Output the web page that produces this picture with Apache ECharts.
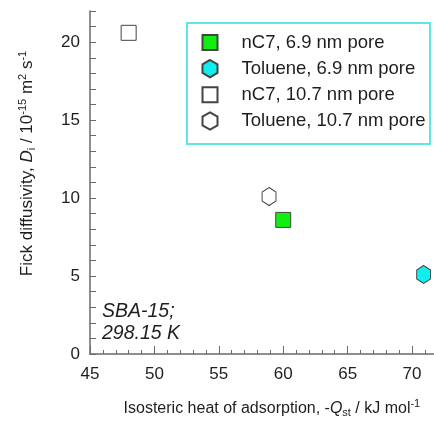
<!DOCTYPE html>
<html>
<head>
<meta charset="utf-8">
<script src="https://cdn.jsdelivr.net/npm/echarts@6/dist/echarts.min.js"></script>
<style>html,body{margin:0;padding:0;background:#fff}#c{width:434px;height:427px}</style>
</head>
<body>
<div id="c"></div>
<script>
var seriesNames = ['nC7, 6.9 nm pore', 'Toluene, 6.9 nm pore', 'nC7, 10.7 nm pore', 'Toluene, 10.7 nm pore'];
var nC7_69 = [[60.0, 8.6]];
var tol_69 = [[70.9, 5.1]];
var nC7_107 = [[48.0, 20.6]];
var tol_107 = [[58.9, 10.1]];
var xTicks = [45, 50, 55, 60, 65, 70];
var yTicks = [0, 5, 10, 15, 20];

var HEX = 'path://M0,-1 L0.866,-0.5 L0.866,0.5 L0,1 L-0.866,0.5 L-0.866,-0.5 Z';
var SQ = 'path://M0,0 L1,0 L1,1 L0,1 Z';
var FONT = 'Liberation Sans';
var AX = '#6a6a6a';
var TXT = '#1e1e1e';
var chart = echarts.init(document.getElementById('c'));

function mk(name, data, symbol, size, fill) {
  return {
    name: name, type: 'scatter', data: data, symbol: symbol, symbolSize: size,
    symbolKeepAspect: true, xAxisIndex: 0, yAxisIndex: 0,
    itemStyle: { color: fill, borderColor: '#444', borderWidth: 1, opacity: 1 },
    emphasis: { disabled: true }
  };
}
function richName(fs) {
  return {
    n: { fontSize: fs, color: TXT, fontFamily: FONT },
    i: { fontSize: fs, color: TXT, fontFamily: FONT, fontStyle: 'italic' },
    sub: { fontSize: 11, color: TXT, fontFamily: FONT, padding: [8, 0, 0, 0] },
    sup: { fontSize: 11, color: TXT, fontFamily: FONT, padding: [0, 0, 10, 0] }
  };
}

chart.setOption({
  animation: false,
  textStyle: { fontFamily: FONT },
  grid: { left: 90, top: 11, width: 347.8, height: 343, outerBoundsMode: 'none', containLabel: false },
  legend: {
    orient: 'vertical', left: 201.5, top: 33, padding: 0,
    itemWidth: 15, itemHeight: 18, itemGap: 7,
    symbolKeepAspect: true,
    textStyle: { fontFamily: FONT, fontSize: 18.5, lineHeight: 18, color: TXT, padding: [0, 0, 0, 19] },
    data: seriesNames
  },
  xAxis: [{
    type: 'value', min: 45, max: 72, interval: 5, position: 'bottom',
    axisLine: { lineStyle: { color: AX, width: 1.5 } },
    axisTick: { inside: true, length: 8, lineStyle: { color: AX, width: 1 } },
    splitLine: { show: false },
    axisLabel: {
      margin: 12, fontSize: 17, color: TXT, fontFamily: FONT, showMaxLabel: false,
      formatter: function (v) { return xTicks.indexOf(v) >= 0 ? String(v) : ''; }
    },
    name: '{n|Isosteric heat of adsorption, -}{i|Q}{sub|st}{n| / kJ mol}{sup|-1}',
    nameLocation: 'middle', nameGap: 44,
    nameTextStyle: { rich: richName(16), padding: [0, 0, 0, 16] }
  }, {
    type: 'value', min: 45, max: 72, interval: 1, position: 'bottom', offset: 0,
    axisLine: { show: false },
    axisTick: { show: true, inside: true, length: 4, lineStyle: { color: AX, width: 1 } },
    axisLabel: { show: false },
    splitLine: { show: false }
  }],
  yAxis: {
    type: 'value', min: 0, max: 22, interval: 1,
    axisLine: { show: true, lineStyle: { color: AX, width: 1.5 } },
    axisTick: { show: true, inside: true, length: 6, lineStyle: { color: AX, width: 1 } },
    splitLine: { show: false },
    axisLabel: {
      margin: 10, fontSize: 17, color: TXT, fontFamily: FONT,
      formatter: function (v) { return yTicks.indexOf(v) >= 0 ? String(v) : ''; }
    },
    name: '{n|Fick diffusivity, }{i|D}{sub|i}{n| / 10}{sup|-15}{n| m}{sup|2}{n| s}{sup|-1}',
    nameLocation: 'middle', nameGap: 52, nameRotate: 90,
    nameTextStyle: { rich: richName(17), padding: [0, 0, 0, 38] }
  },
  graphic: [{
    type: 'rect', shape: { x: 187, y: 23, width: 243, height: 121 },
    style: { fill: 'none', stroke: '#5ee6e6', lineWidth: 2 }, silent: true
  }, {
    type: 'text', x: 102, y: 312,
    style: { text: 'SBA-15;', fontSize: 19.5, fontStyle: 'italic', fontFamily: FONT, fill: TXT, verticalAlign: 'middle' }
  }, {
    type: 'text', x: 102, y: 334,
    style: { text: '298.15 K', fontSize: 19.5, fontStyle: 'italic', fontFamily: FONT, fill: TXT, verticalAlign: 'middle' }
  }],
  series: [
    mk(seriesNames[0], nC7_69, SQ, 15, '#11ee11'),
    mk(seriesNames[1], tol_69, HEX, [16, 18], '#11eeee'),
    mk(seriesNames[2], nC7_107, SQ, 15, '#ffffff'),
    mk(seriesNames[3], tol_107, HEX, [16, 18], '#ffffff')
  ]
});
</script>
</body>
</html>
